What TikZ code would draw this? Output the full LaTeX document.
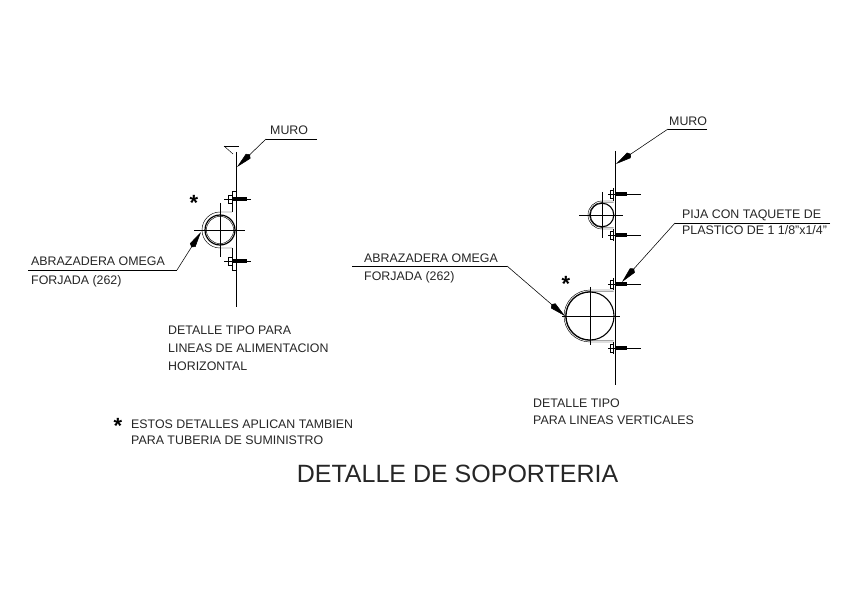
\documentclass[tikz,border=0pt]{standalone}
\usepackage{fontspec}
\setmainfont{Liberation Sans}
\usetikzlibrary{arrows.meta}
\tikzset{
  rotulo/.style={anchor=base west,inner sep=0pt,font=\fontsize{12.4}{12.4}\selectfont,text=black!85},
  estrella/.style={inner sep=0pt,font=\bfseries\fontsize{22}{22}\selectfont},
  linea/.style={draw,line width=0.7pt},
  fina/.style={draw,line width=0.45pt},
  guia/.style={draw,line width=0.55pt,-{Kite[length=18pt,width=6.5pt,inset=2.5pt]}},
  vastago/.style={draw,line width=3.6pt}
}
\begin{document}
\begin{tikzpicture}[x=1pt,y=-1pt]
\useasboundingbox (0,0) rectangle (861,601);
\fill[white] (0,0) rectangle (861,601);

% detalle izquierdo
\path[linea] (236.5,152) -- (236.5,307);
\path[fina] (224,146) -- (239,146);
\path[fina] (224,146) -- (233,154);

\draw[line width=1.2pt] (220,230) circle (15pt);
\path[fina] (220,230) circle (13.6pt);
\path[fina] (232,212) -- (220,212) arc (90:270:18pt) -- (232,248);
\path[fina] (194,230) -- (245,230);
\path[fina] (220,203) -- (220,257);
\path[linea] (236,191) -- (232,191) -- (232,212);
\path[linea] (232,248) -- (232,270) -- (236,270);

\path[fina] (224,199) -- (251,199);
\path[vastago] (232,199) -- (247,199);
\path[fina] (228,195) rectangle (232,203);
\path[fina] (224,261) -- (251,261);
\path[vastago] (232,261) -- (247,261);
\path[fina] (228,257) rectangle (232,265);

\coordinate (muroA) at (266,139);
\coordinate (muroAp) at (317,139);
\coordinate (muroAf) at (237,167);
\path[fina] (muroAp) -- (muroA);
\path[guia] (muroA) -- (muroAf);
\node[rotulo] (muroAt) at (270,135) {MURO};

\coordinate (abrAi) at (28,270);
\coordinate (abrAm) at (177,270);
\coordinate (abrAf) at (201,232);
\path[fina] (abrAi) -- (abrAm);
\path[guia] (abrAm) -- (abrAf);
\node[rotulo] (abrAt) at (31,266) {ABRAZADERA OMEGA};
\node[rotulo] (forAt) at (31,284) {FORJADA (262)};
\node[estrella] (estA) at (194,203) {*};

\node[rotulo] (tipoA1) at (168,334) {DETALLE TIPO PARA};
\node[rotulo] (tipoA2) at (168,352) {LINEAS DE ALIMENTACION};
\node[rotulo] (tipoA3) at (168,370) {HORIZONTAL};

% detalle derecho
\path[linea] (615.5,151) -- (615.5,385);

\draw[line width=1.1pt] (602,215) circle (11.8pt);
\path[fina] (613.5,201) -- (602,201) arc (90:270:14pt) -- (613.5,229);
\path[fina] (613.5,202.5) -- (602,202.5) arc (90:270:12.5pt) -- (613.5,227.5);
\path[fina] (579,215) -- (623,215);
\path[fina] (602,192) -- (602,238);
\path[linea] (613.5,188) -- (613.5,201);
\path[linea] (613.5,229) -- (613.5,241);

\path[fina] (608,194) -- (641,194);
\path[vastago] (615,194) -- (627,194);
\path[fina] (610,190) rectangle (613.5,198);
\path[fina] (608,235) -- (641,235);
\path[vastago] (615,235) -- (627,235);
\path[fina] (610,231) rectangle (613.5,239);

\draw[line width=1.1pt] (590,316) circle (24pt);
\path[fina] (613.5,290) -- (590,290) arc (90:270:26pt) -- (613.5,342);
\path[fina] (613.5,291.5) -- (590,291.5) arc (90:270:24.5pt) -- (613.5,340.5);
\path[fina] (562,316) -- (620,316);
\path[fina] (590,287) -- (590,345);
\path[linea] (613.5,278) -- (613.5,290);
\path[linea] (613.5,342) -- (613.5,354);

\path[fina] (608,284) -- (641,284);
\path[vastago] (615,284) -- (627,284);
\path[fina] (610,280) rectangle (613.5,288);
\path[fina] (608,348) -- (641,348);
\path[vastago] (615,348) -- (627,348);
\path[fina] (610,344) rectangle (613.5,352);

\coordinate (muroB) at (668,129);
\coordinate (muroBp) at (707,129);
\coordinate (muroBf) at (616,164);
\path[fina] (muroBp) -- (muroB);
\path[guia] (muroB) -- (muroBf);
\node[rotulo] (muroBt) at (669,126) {MURO};

\coordinate (abrBi) at (352,266);
\coordinate (abrBm) at (507,266);
\coordinate (abrBf) at (565,316);
\path[fina] (abrBi) -- (abrBm);
\path[guia] (abrBm) -- (abrBf);
\node[rotulo] (abrBt) at (364,263) {ABRAZADERA OMEGA};
\node[rotulo] (forBt) at (364,281) {FORJADA (262)};
\node[estrella] (estB) at (566,284) {*};

\coordinate (pijaf) at (830,223);
\coordinate (pijam) at (675,223);
\coordinate (pijat) at (622,282);
\path[fina] (pijaf) -- (pijam);
\path[guia] (pijam) -- (pijat);
\node[rotulo] (pija1) at (682,219) {PIJA CON TAQUETE DE};
\node[rotulo] (pija2) at (682,235) {PLASTICO DE 1 1/8"x1/4"};

\node[rotulo] (tipoB1) at (533,407) {DETALLE TIPO};
\node[rotulo] (tipoB2) at (533,424) {PARA LINEAS VERTICALES};

% notas
\node[estrella] (estN) at (118,426) {*};
\node[rotulo] (nota1) at (131,428) {ESTOS DETALLES APLICAN TAMBIEN};
\node[rotulo] (nota2) at (131,444) {PARA TUBERIA DE SUMINISTRO};

\node[anchor=base,inner sep=0pt,font=\fontsize{25}{26}\selectfont,text=black!85] (titulo) at (457.5,482) {DETALLE DE SOPORTERIA};
\end{tikzpicture}
\end{document}
